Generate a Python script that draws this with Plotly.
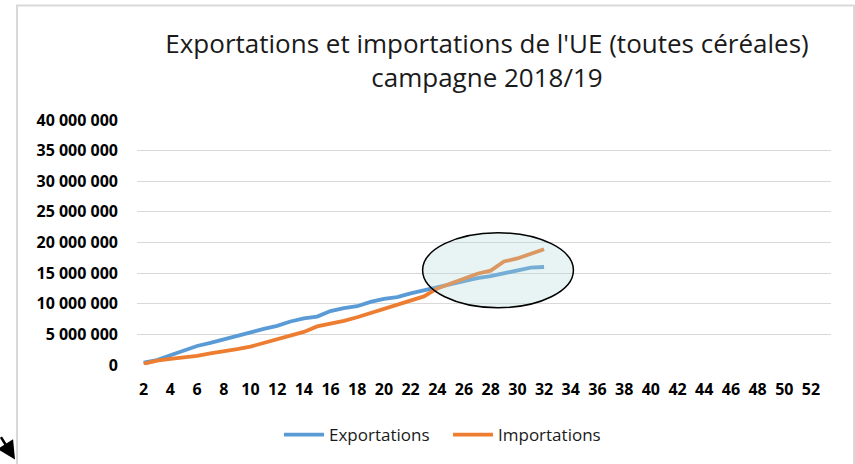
import plotly.graph_objects as go

# Campaign weeks (cumulative totals, tonnes)
weeks = list(range(2, 33))
exportations = [0.4, 0.8, 1.6, 2.3, 3.1, 3.6, 4.2, 4.7, 5.4, 5.9, 6.4, 7.1, 7.6, 7.9,
                8.8, 9.3, 9.6, 10.3, 10.8, 11.1, 11.7, 12.2, 12.6, 13.1, 13.6, 14.2,
                14.5, 15.0, 15.4, 15.9, 16.0]
importations = [0.2, 0.7, 1.0, 1.2, 1.5, 1.9, 2.2, 2.6, 3.0, 3.6, 4.1, 4.7, 5.4, 6.3,
                6.7, 7.2, 7.8, 8.5, 9.2, 9.9, 10.5, 11.2, 12.5, 13.3, 14.2, 14.9,
                15.4, 16.9, 17.4, 18.2, 18.9]
exportations = [v * 1_000_000 for v in exportations]
importations = [v * 1_000_000 for v in importations]

x_ticks = list(range(2, 53, 2))
y_ticks = list(range(0, 40_000_001, 5_000_000))
y_ticktext = [f"{v:,}".replace(",", " ") for v in y_ticks]

W, H = 855, 464
ML, MR, MT, MB = 137, 24, 120, 98
PW, PH = W - ML - MR, H - MT - MB


def px_x(px):
    return (px - ML) / PW


def px_y(py):
    return (H - MB - py) / PH


BLUE = "#5B9BD5"
ORANGE = "#ED7D31"
GRID = "#D9D9D9"

fig = go.Figure()
fig.add_trace(go.Scatter(x=weeks, y=exportations, mode="lines", name="Exportations",
                         line=dict(color=BLUE, width=3.8)))
fig.add_trace(go.Scatter(x=weeks, y=importations, mode="lines", name="Importations",
                         line=dict(color=ORANGE, width=3.8)))

fig.update_layout(
    width=W, height=H,
    margin=dict(l=ML, r=MR, t=MT, b=MB),
    paper_bgcolor="white", plot_bgcolor="white",
    font=dict(family="Open Sans", color="#000000"),
    title=dict(
        text="Exportations et importations de l'UE (toutes céréales)<br>campagne 2018/19",
        x=487 / W, xanchor="center", xref="container",
        y=1 - 53 / H, yanchor="top", yref="container",
        font=dict(family="Open Sans", size=26, color="#1a1a1a"),
    ),
    xaxis=dict(
        range=[1.5, 53.5], tickvals=x_ticks, showgrid=False, zeroline=False,
        showline=False, ticks="", ticklabelstandoff=13,
        tickfont=dict(family="Open Sans", size=16, color="#000000", weight="bold"),
        fixedrange=True,
    ),
    yaxis=dict(
        range=[0, 40_000_000], tickvals=y_ticks, ticktext=y_ticktext,
        showgrid=True, gridcolor=GRID, gridwidth=1, zeroline=False,
        showline=False, ticks="", ticklabelstandoff=18,
        tickfont=dict(family="Open Sans", size=16, color="#000000", weight="bold"),
        fixedrange=True,
    ),
    showlegend=True,
    legend=dict(
        orientation="h", x=px_x(448), xanchor="center", y=px_y(435), yanchor="middle",
        font=dict(family="Open Sans", size=17, color="#1a1a1a"),
        itemwidth=40, entrywidth=114, entrywidthmode="pixels",
        bgcolor="rgba(0,0,0,0)",
    ),
)

# Chart frame
fig.add_shape(type="rect", xref="paper", yref="paper",
              x0=px_x(17), x1=px_x(854), y0=px_y(500), y1=px_y(5),
              line=dict(color=GRID, width=2), fillcolor="rgba(0,0,0,0)", layer="below")

# Highlight ellipse around the crossing of the two series
fig.add_shape(type="circle", xref="x", yref="y",
              x0=22.9, x1=34.2, y0=9_350_000, y1=21_600_000,
              line=dict(color="black", width=1.5),
              fillcolor="rgba(178,215,215,0.3)", layer="above")

# Arrow in the bottom-left corner
fig.add_annotation(xref="paper", yref="paper", x=px_x(15), y=px_y(461),
                   ax=-18, ay=-24, showarrow=True, arrowhead=2, arrowsize=1.4,
                   arrowwidth=2.6, arrowcolor="black", text="")

fig.write_html("out.html")
